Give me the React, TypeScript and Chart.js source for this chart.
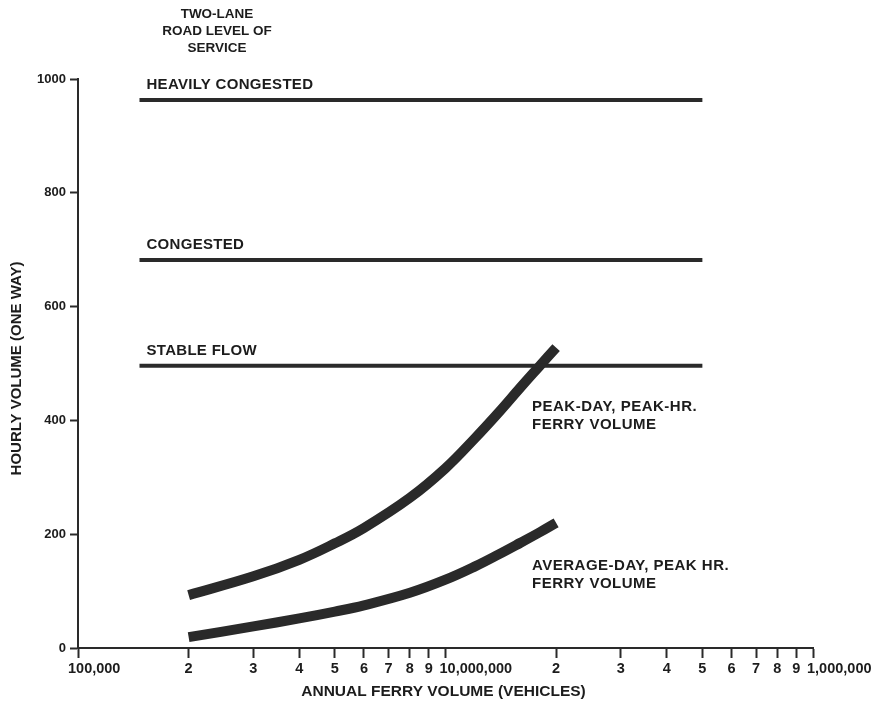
import React, { useEffect, useRef } from "react";
import { Chart, registerables } from "chart.js";

Chart.register(...registerables);

// ---- data ----
const titleLines = ["TWO-LANE", "ROAD LEVEL OF", "SERVICE"];
const levelNames = ["HEAVILY CONGESTED", "CONGESTED", "STABLE FLOW"];
const levelValues = [963, 682, 496];
const levelRange = [147000, 5000000];

const curveX = [200000, 300000, 400000, 500000, 600000, 800000, 1000000, 1200000, 1400000, 1600000, 1800000, 2000000];
const peakDayPeakHr = [93, 126, 155, 184, 211, 264, 316, 368, 415, 458, 495, 528];
const avgDayPeakHr = [19, 38, 52, 64, 75, 97, 120, 143, 165, 185, 203, 220];

const peakLabel = ["PEAK-DAY, PEAK-HR.", "FERRY VOLUME"];
const avgLabel = ["AVERAGE-DAY, PEAK HR.", "FERRY VOLUME"];

const xTickValues = [
  100000, 200000, 300000, 400000, 500000, 600000, 700000, 800000, 900000,
  1000000, 2000000, 3000000, 4000000, 5000000, 6000000, 7000000, 8000000, 9000000,
  10000000,
];
const xTickLabels = [
  "100,000", "2", "3", "4", "5", "6", "7", "8", "9",
  "10,000,000", "2", "3", "4", "5", "6", "7", "8", "9",
  "1,000,000",
];
const yTickStep = 200;
const xTitle = "ANNUAL FERRY VOLUME (VEHICLES)";
const yTitle = "HOURLY VOLUME (ONE WAY)";

const INK = "#1c1c1c";
const LINE = "#2a2a2a";
const FONT = "'Liberation Sans', Arial, sans-serif";

export default function App() {
  const ref = useRef<HTMLCanvasElement | null>(null);

  useEffect(() => {
    if (!ref.current) return;

    const textPlugin = {
      id: "textPlugin",
      afterDraw(chart: any) {
        const ctx = chart.ctx;
        const xs = chart.scales.x;
        const ys = chart.scales.y;
        ctx.save();
        ctx.fillStyle = INK;
        ctx.textBaseline = "middle";

        // title
        ctx.font = `bold 13.5px ${FONT}`;
        ctx.textAlign = "center";
        titleLines.forEach((t, i) => ctx.fillText(t, 217, 14 + i * 17));

        // level labels
        ctx.font = `bold 15px ${FONT}`;
        ctx.textAlign = "left";
        (ctx as any).letterSpacing = "0.3px";
        levelNames.forEach((n, i) => {
          ctx.fillText(n, xs.getPixelForValue(levelRange[0]) + 7, ys.getPixelForValue(levelValues[i]) - 15);
        });

        // curve labels
        (ctx as any).letterSpacing = "0.5px";
        peakLabel.forEach((t, i) => ctx.fillText(t, 532, 407 + i * 18));
        avgLabel.forEach((t, i) => ctx.fillText(t, 532, 566 + i * 18));
        (ctx as any).letterSpacing = "0px";

        // x tick labels
        ctx.font = `bold 14.5px ${FONT}`;
        const ty = xs.bottom - xs.height + 21;
        xTickValues.forEach((v, i) => {
          const px = xs.getPixelForValue(v);
          const lab = xTickLabels[i];
          if (lab.length > 1) {
            ctx.textAlign = "left";
            ctx.fillText(lab, px - (i === 0 ? 10 : 6), ty);
          } else {
            ctx.textAlign = "center";
            ctx.fillText(lab, px, ty);
          }
        });

        // axis titles
        ctx.font = `bold 15.5px ${FONT}`;
        ctx.textAlign = "center";
        ctx.fillText(xTitle, (xs.left + xs.right) / 2 - 2, 692);
        ctx.font = `bold 15px ${FONT}`;
        ctx.translate(17, (ys.top + ys.bottom) / 2 + 5);
        ctx.rotate(-Math.PI / 2);
        ctx.fillText(yTitle, 0, 0);
        ctx.restore();
      },
    };

    const levelDatasets = levelValues.map((v, i) => ({
      label: levelNames[i],
      data: levelRange.map((x) => ({ x, y: v })),
      borderColor: LINE,
      borderWidth: 4,
      pointRadius: 0,
      borderCapStyle: "butt",
    }));

    const chart = new Chart(ref.current, {
      type: "line",
      data: {
        datasets: [
          ...levelDatasets,
          {
            label: "Peak-day, peak-hr",
            data: curveX.map((x, i) => ({ x, y: peakDayPeakHr[i] })),
            borderColor: LINE,
            borderWidth: 10,
            pointRadius: 0,
            tension: 0.4,
            borderCapStyle: "butt",
          },
          {
            label: "Average-day, peak hr",
            data: curveX.map((x, i) => ({ x, y: avgDayPeakHr[i] })),
            borderColor: LINE,
            borderWidth: 10,
            pointRadius: 0,
            tension: 0.4,
            borderCapStyle: "butt",
          },
        ] as any,
      },
      options: {
        animation: false,
        responsive: false,
        maintainAspectRatio: false,
        layout: { padding: { top: 79, right: 60, left: 0, bottom: 0 } },
        plugins: { legend: { display: false }, tooltip: { enabled: false }, title: { display: false } },
        scales: {
          x: {
            type: "logarithmic",
            min: 100000,
            max: 10000000,
            afterBuildTicks: (s: any) => {
              s.ticks = xTickValues.map((v) => ({ value: v }));
            },
            afterFit: (s: any) => {
              s.height = 57;
            },
            ticks: { display: false },
            grid: {
              display: true,
              drawOnChartArea: false,
              drawTicks: true,
              tickLength: 10,
              tickWidth: 2,
              tickColor: LINE,
            },
            border: { display: true, color: LINE, width: 2 },
          },
          y: {
            type: "linear",
            min: 0,
            max: 1000,
            afterFit: (s: any) => {
              s.width = 78;
            },
            ticks: {
              stepSize: yTickStep,
              color: INK,
              padding: 4,
              font: { family: FONT, size: 13, weight: "bold" },
              callback: (v: any) => String(v),
            },
            grid: {
              display: true,
              drawOnChartArea: false,
              drawTicks: true,
              tickLength: 8,
              tickWidth: 2,
              tickColor: LINE,
            },
            border: { display: true, color: LINE, width: 2 },
          },
        },
      } as any,
      plugins: [textPlugin],
    });

    return () => chart.destroy();
  }, []);

  return (
    <div style={{ position: "fixed", left: 0, top: 0, width: 873, height: 705, background: "#fff" }}>
      <canvas ref={ref} width={873} height={705} style={{ width: 873, height: 705 }} />
    </div>
  );
}
